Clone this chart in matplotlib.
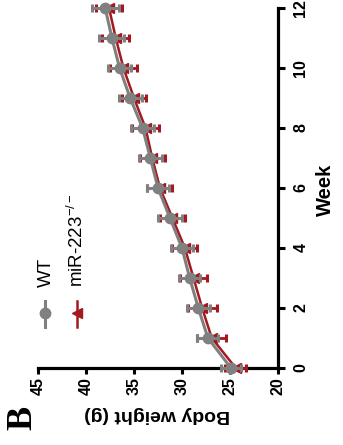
import matplotlib
matplotlib.use("Agg")
import matplotlib.pyplot as plt
from matplotlib.lines import Line2D

plt.rcParams['font.family'] = ['Liberation Sans', 'DejaVu Sans']
plt.rcParams['mathtext.fontset'] = 'custom'
plt.rcParams['mathtext.rm'] = 'Liberation Sans'

# Body weight over time (mean ± SEM)
weeks = [0, 1, 2, 3, 4, 5, 6, 7, 8, 9, 10, 11, 12]
wt_mean = [24.9, 27.3, 28.3, 29.2, 30.0, 31.25, 32.5, 33.3, 34.1, 35.4, 36.5, 37.3, 38.0]
wt_sem = [1.0, 1.1, 1.2, 1.1, 1.1, 1.2, 1.1, 1.2, 1.2, 1.2, 1.2, 1.3, 1.4]
ko_mean = [24.4, 26.9, 27.9, 28.8, 29.7, 31.0, 32.3, 33.1, 33.8, 35.0, 36.1, 36.9, 37.6]
ko_sem = [1.1, 1.5, 1.5, 1.4, 1.3, 1.3, 1.3, 1.3, 1.4, 1.3, 1.4, 1.4, 1.4]

week_ticks = [0, 2, 4, 6, 8, 10, 12]
weight_ticks = [20, 25, 30, 35, 40, 45]
labels = ["WT", "miR-223$^{-/-}$"]

GRAY = "#808080"
RED = "#a3191f"

W, H = 343, 445
fig = plt.figure(figsize=(W / 100, H / 100), dpi=100)


def fx(px):
    return px / W


def fy(py):
    return 1 - py / H


# Panel is laid out turned on its side: weight runs right-to-left, weeks bottom-to-top
ax = fig.add_axes([fx(38), fy(368), fx(278) - fx(38), fy(8) - fy(368)])
ax.set_xlim(45, 20)
ax.set_ylim(0, 12)

ax.errorbar(ko_mean, weeks, xerr=ko_sem, color=RED, lw=1.8, marker='<',
            ms=6.5, elinewidth=2, capsize=2.6, capthick=2.2, clip_on=False, zorder=3)
ax.errorbar(wt_mean, weeks, xerr=wt_sem, color=GRAY, lw=2.2, marker='o',
            ms=7.5, elinewidth=2.2, capsize=2.6, capthick=2.2, clip_on=False, zorder=4)

for s in ['top', 'left']:
    ax.spines[s].set_visible(False)
for s in ['right', 'bottom']:
    ax.spines[s].set_linewidth(2.3)
    ax.spines[s].set_capstyle('projecting')

ax.set_xticks(weight_ticks)
ax.set_yticks(week_ticks)
ax.yaxis.tick_right()
ax.tick_params(axis='x', direction='out', length=4.5, width=2.2, pad=2,
               labelsize=11.5, labelrotation=90)
ax.tick_params(axis='y', direction='out', length=5, width=2.2, pad=6,
               labelsize=11.5, labelrotation=90)
for t in ax.get_xticklabels() + ax.get_yticklabels():
    t.set_fontweight('bold')
for t in ax.get_yticklabels():
    t.set_va('center')
    t.set_ha('left')

fig.text(fx(157), fy(415), "Body weight (g)", rotation=180, ha='center',
         va='center', fontsize=14, fontweight='bold')
fig.text(fx(325), fy(190), "Week", rotation=90, ha='center', va='center',
         fontsize=14.5, fontweight='bold')
fig.text(fx(23), fy(418), "B", rotation=90, ha='center', va='center',
         fontsize=26, fontweight='bold', family='Liberation Serif')

# Legend
fig.add_artist(Line2D([fx(45), fx(45)], [fy(327), fy(301)], color=GRAY, lw=2.2))
fig.add_artist(Line2D([fx(45)], [fy(313)], color=GRAY, marker='o', ms=7.5, lw=0))
fig.add_artist(Line2D([fx(77), fx(77)], [fy(327), fy(301)], color=RED, lw=1.8))
fig.add_artist(Line2D([fx(77)], [fy(313)], color=RED, marker='<', ms=7, lw=0))
fig.text(fx(51), fy(287), labels[0], rotation=90, rotation_mode='anchor',
         ha='left', va='baseline', fontsize=13.5)
fig.text(fx(83), fy(287), labels[1], rotation=90, rotation_mode='anchor',
         ha='left', va='baseline', fontsize=13.5)

fig.savefig("out.png", dpi=100)
